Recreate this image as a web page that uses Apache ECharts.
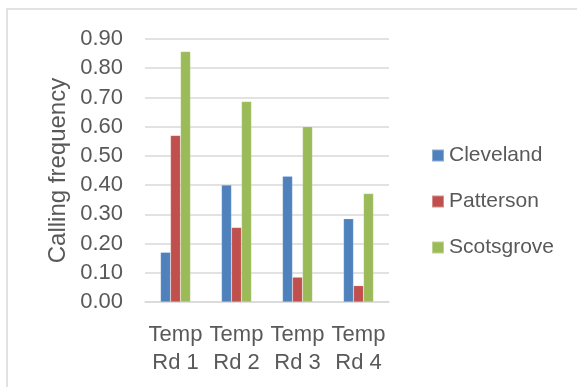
<!DOCTYPE html>
<html>
<head>
<meta charset="utf-8">
<script src="https://cdn.jsdelivr.net/npm/echarts@6/dist/echarts.min.js"></script>
<style>
html,body{margin:0;padding:0;background:#fff;}
#chart{width:577px;height:387px;}
</style>
</head>
<body>
<div id="chart"></div>
<script>
var categories = ['Temp\nRd 1', 'Temp\nRd 2', 'Temp\nRd 3', 'Temp\nRd 4'];
var cleveland = [0.17, 0.40, 0.43, 0.285];
var patterson = [0.57, 0.255, 0.085, 0.056];
var scotsgrove = [0.857, 0.686, 0.60, 0.371];
var seriesNames = ['Cleveland', 'Patterson', 'Scotsgrove'];
var yTicks = [0, 0.9, 0.1];

var FONT = '"Liberation Sans", Arial, sans-serif';
var TXT = '#595959';
var colors = ['#4F81BD', '#C0504D', '#9BBB59'];

var chart = echarts.init(document.getElementById('chart'), null, {renderer: 'canvas'});
function bar(name, data, i) {
  return {
    name: name, type: 'bar', data: data,
    barWidth: 10, barGap: '0%',
    itemStyle: {color: colors[i], borderColor: 'rgba(255,255,255,0.35)', borderWidth: 0.5},
    emphasis: {disabled: true}, animation: false
  };
}
chart.setOption({
  animation: false,
  textStyle: {fontFamily: FONT},
  graphic: [{
    type: 'rect', silent: true,
    shape: {x: 7, y: 9, width: 620, height: 420},
    style: {fill: 'none', stroke: '#D9D9D9', lineWidth: 1.5}
  }],
  grid: {left: 145, right: 188, top: 39, bottom: 85, containLabel: false},
  legend: {
    orient: 'vertical', left: 431, top: 145, padding: 0,
    itemWidth: 12, itemHeight: 12, itemGap: 25, icon: 'rect',
    data: seriesNames,
    textStyle: {fontSize: 21, color: TXT, fontFamily: FONT, lineHeight: 20}
  },
  xAxis: {
    type: 'category', data: categories,
    axisLine: {show: true, lineStyle: {color: '#D9D9D9', width: 1.5}},
    axisTick: {show: false},
    axisLabel: {fontSize: 22, color: TXT, lineHeight: 28, margin: 19, fontFamily: FONT, interval: 0}
  },
  yAxis: {
    type: 'value', min: yTicks[0], max: yTicks[1], interval: yTicks[2],
    name: 'Calling frequency', nameLocation: 'middle', nameGap: 75,
    nameTextStyle: {fontSize: 24, color: TXT, fontFamily: FONT},
    axisLine: {show: false}, axisTick: {show: false},
    axisLabel: {fontSize: 22, color: TXT, margin: 22, fontFamily: FONT,
      formatter: function (v) { return v.toFixed(2); }},
    splitLine: {lineStyle: {color: '#D9D9D9', width: 1.5}}
  },
  series: [bar(seriesNames[0], cleveland, 0), bar(seriesNames[1], patterson, 1), bar(seriesNames[2], scotsgrove, 2)]
});
</script>
</body>
</html>
